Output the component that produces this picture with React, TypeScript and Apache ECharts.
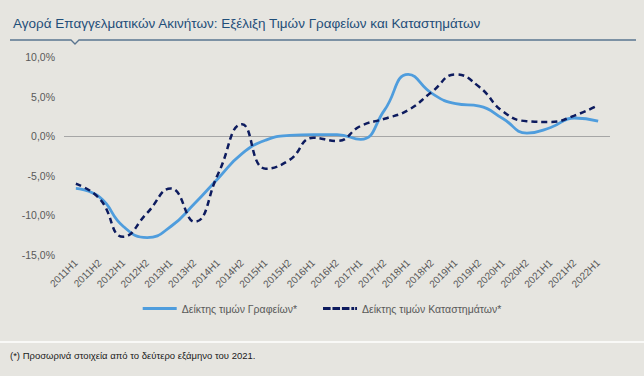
import React, { useEffect, useRef } from "react";
import * as echarts from "echarts";

const categories = [
  "2011H1", "2011H2", "2012H1", "2012H2", "2013H1", "2013H2", "2014H1", "2014H2",
  "2015H1", "2015H2", "2016H1", "2016H2", "2017H1", "2017H2", "2018H1", "2018H2",
  "2019H1", "2019H2", "2020H1", "2020H2", "2021H1", "2021H2", "2022H1",
];
const officeIndex = [
  -6.6, -7.7, -11.4, -12.8, -11.4, -8.5, -5.3, -2.2, -0.5, 0.1, 0.2, 0.2,
  -0.4, 3.3, 7.8, 5.4, 4.1, 3.8, 2.2, 0.4, 1.1, 2.3, 1.9,
];
const retailIndex = [
  -6.0, -7.9, -12.7, -9.7, -6.6, -10.8, -4.7, 1.5, -4.1, -3.0, -0.2, -0.6,
  1.3, 2.2, 3.3, 5.6, 7.8, 6.2, 3.1, 1.9, 1.8, 2.6, 3.9,
];
const seriesNames = ["Δείκτης τιμών Γραφείων*", "Δείκτης τιμών Καταστημάτων*"];
const titleText = "Αγορά Επαγγελματικών Ακινήτων: Εξέλιξη Τιμών Γραφείων και Καταστημάτων";
const footnote = "(*) Προσωρινά στοιχεία από το δεύτερο εξάμηνο του 2021.";

const FONT = "'Liberation Sans', Arial, sans-serif";
const SOLID_ICON = "path://M0,0h36v3h-36z";
const DASH_ICON = "path://M0,0h8v3h-8z M10,0h8v3h-8z M20,0h8v3h-8z M30,0h3v3h-3z M34,0h2v3h-2z";

export default function App() {
  const ref = useRef<HTMLDivElement>(null);
  useEffect(() => {
    if (!ref.current) return;
    const chart = echarts.init(ref.current, null, { renderer: "svg" });
    chart.setOption({
      animation: false,
      backgroundColor: "#e6e5e0",
      textStyle: { fontFamily: FONT },
      title: {
        text: titleText,
        left: 8,
        top: 11,
        textStyle: { fontSize: 13.5, fontWeight: "normal", color: "#1f4e79", fontFamily: FONT },
      },
      graphic: [
        {
          type: "polyline",
          shape: { points: [[10, 40], [71, 40], [75, 44], [79, 40], [636, 40]] },
          style: { stroke: "#5a7590", lineWidth: 1.3, fill: "none" },
        },
        {
          type: "line",
          shape: { x1: 0, y1: 342, x2: 644, y2: 342 },
          style: { stroke: "#ffffff", lineWidth: 1.5 },
        },
        {
          type: "text",
          left: 10,
          top: 350,
          style: { text: footnote, fontSize: 9.5, fill: "#1a1a1a", fontFamily: FONT },
        },
      ],
      legend: {
        bottom: 57,
        left: "center",
        itemWidth: 34,
        itemHeight: 3,
        itemGap: 26,
        textStyle: { fontSize: 10.5, color: "#595959", fontFamily: FONT },
        data: [
          { name: seriesNames[0], icon: SOLID_ICON, itemStyle: { color: "#4f9ddd" } },
          { name: seriesNames[1], icon: DASH_ICON, itemStyle: { color: "#0d1b5e" } },
        ],
      },
      grid: { left: 64, right: 34, top: 57, bottom: 121 },
      xAxis: {
        type: "category",
        data: categories,
        boundaryGap: true,
        axisLine: { show: false, onZero: false },
        axisTick: { show: false },
        axisLabel: { rotate: 45, fontSize: 10, color: "#595959", margin: 6, interval: 0 },
      },
      yAxis: {
        type: "value",
        min: -15,
        max: 10,
        interval: 5,
        axisLine: { show: false },
        axisTick: { show: false },
        axisLabel: {
          fontSize: 10.5,
          color: "#595959",
          margin: 9,
          formatter: (v: number) => v.toFixed(1).replace(".", ",") + "%",
        },
        splitLine: {
          show: true,
          lineStyle: {
            color: ["transparent", "transparent", "transparent", "#a6a6a6", "transparent", "transparent"],
            width: 1,
          },
        },
      },
      series: [
        {
          name: seriesNames[0],
          type: "line",
          data: officeIndex,
          smooth: 0.5,
          symbol: "none",
          lineStyle: { color: "#4f9ddd", width: 2.8 },
          itemStyle: { color: "#4f9ddd" },
        },
        {
          name: seriesNames[1],
          type: "line",
          data: retailIndex,
          smooth: 0.5,
          symbol: "none",
          lineStyle: { color: "#0d1b5e", width: 2.5, type: [6, 4] },
          itemStyle: { color: "#0d1b5e" },
        },
      ],
    });
    return () => chart.dispose();
  }, []);
  return (
    <div
      ref={ref}
      style={{ position: "fixed", left: 0, top: 0, width: 644, height: 376 }}
    />
  );
}
